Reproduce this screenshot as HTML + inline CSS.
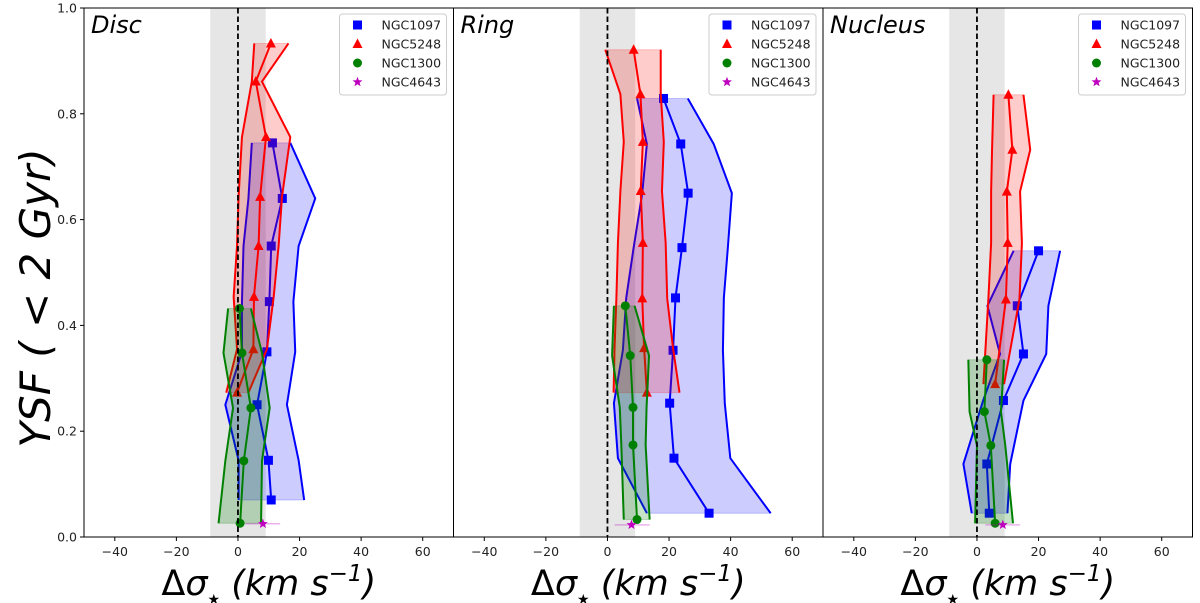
<!DOCTYPE html>
<html><head><meta charset="utf-8"><style>
body{margin:0;background:#fff;}
svg{display:block;font-family:"DejaVu Sans","Liberation Sans",sans-serif;}
</style></head><body>
<svg id="chart" width="1200" height="603" viewBox="0 0 1200 603" xmlns="http://www.w3.org/2000/svg"></svg>
<script>
const panelTitles = ["Disc","Ring","Nucleus"];
const galaxies = ["NGC1097","NGC5248","NGC1300","NGC4643"];
const xTicks = [-40,-20,0,20,40,60];
const yTicks = [0,0.2,0.4,0.6,0.8,1.0];
const yTickLabels = ["0.0","0.2","0.4","0.6","0.8","1.0"];
// Disc
const discN1097Y = [0.745,0.64,0.55,0.445,0.35,0.25,0.145,0.07];
const discN1097Mid = [11.2,14.4,10.8,10.2,9.4,6.2,9.9,10.8];
const discN1097Lo = [4.5,3.4,1.8,1.3,1.3,-4.1,0.2,0.2];
const discN1097Hi = [17,25.1,19.7,18,18.6,15.9,19.7,21.5];
const discN5248Y = [0.933,0.861,0.756,0.643,0.55,0.454,0.355,0.273];
const discN5248Mid = [10.7,5.8,9.1,7.2,6.7,5.2,5.0,-0.3];
const discN5248Lo = [5.3,4.5,1.3,0.2,-0.3,-1.4,-0.3,-3.8];
const discN5248Hi = [16.4,7.8,17,14.3,13.2,11.6,9.4,3.4];
const discN1300Y = [0.432,0.348,0.244,0.144,0.026];
const discN1300Mid = [0.5,1.3,4.2,1.9,0.7];
const discN1300Lo = [-3.2,-4.7,-1.6,-4.1,-6.3];
const discN1300Hi = [4.2,7.8,10.3,7.8,7.5];
const discN4643 = [8.1,0.025,2.4,13.7];
// Ring
const ringN1097Y = [0.829,0.743,0.65,0.547,0.452,0.353,0.253,0.149,0.045];
const ringN1097Mid = [18.2,23.8,26.2,24.2,22.1,21.3,20.2,21.6,33];
const ringN1097Lo = [9.6,12.8,11.3,8.5,6.1,5.0,2.1,3.4,12.8];
const ringN1097Hi = [26.1,34.5,40.4,39.1,37.8,37.5,38.1,39.9,53];
const ringN5248Y = [0.921,0.837,0.747,0.654,0.556,0.451,0.357,0.273];
const ringN5248Mid = [8.5,10.7,11.5,10.8,11.5,11.3,11.9,12.8];
const ringN5248Lo = [-0.7,4.2,5.3,4.2,3.4,2.9,2.3,2.0];
const ringN5248Hi = [17.3,17.3,18.3,17.7,18.9,19.4,21.3,23.4];
const ringN1300Y = [0.437,0.343,0.245,0.174,0.033];
const ringN1300Mid = [5.8,7.4,8.3,8.3,9.6];
const ringN1300Lo = [2.1,1.5,4.0,4.5,5.3];
const ringN1300Hi = [8.8,13.5,12.7,12.4,13.7];
const ringN4643 = [7.8,0.023,2.3,13.7];
// Nucleus
const nucN1097Y = [0.541,0.437,0.346,0.258,0.138,0.045];
const nucN1097Mid = [20,13.1,15.1,8.6,3.2,4.0];
const nucN1097Lo = [11.9,3.4,7.5,2.0,-4.4,-1.7];
const nucN1097Hi = [27,23.2,22.5,15.1,10.8,9.9];
const nucN5248Y = [0.836,0.732,0.653,0.556,0.449,0.289];
const nucN5248Mid = [10.2,11.5,9.7,10.0,9.4,5.9];
const nucN5248Lo = [5.4,4.9,4.6,4.6,3.7,2.1];
const nucN5248Hi = [15.1,17.3,14,14.6,13.8,8.8];
const nucN1300Y = [0.335,0.237,0.173,0.026];
const nucN1300Mid = [3.2,2.4,4.5,5.9];
const nucN1300Lo = [-2.8,-2.4,0,-0.6];
const nucN1300Hi = [8.8,7.8,9.2,11.7];
const nucN4643 = [8.4,0.023,2.7,14];

const NS="http://www.w3.org/2000/svg";
const svg=document.getElementById('chart');
function mk(tag,attrs,parent){const e=document.createElementNS(NS,tag);for(const k in attrs)e.setAttribute(k,attrs[k]);(parent||svg).appendChild(e);return e;}
const TOP=8,BOT=537,PW=369.5,XMIN=-50,XMAX=70;
const lefts=[84,453.5,823];
function yS(v){return BOT-(v-0)/(1-0)*(BOT-TOP);}

const panels=[
 {s:[[discN1097Y,discN1097Mid,discN1097Lo,discN1097Hi],[discN5248Y,discN5248Mid,discN5248Lo,discN5248Hi],[discN1300Y,discN1300Mid,discN1300Lo,discN1300Hi]],star:discN4643},
 {s:[[ringN1097Y,ringN1097Mid,ringN1097Lo,ringN1097Hi],[ringN5248Y,ringN5248Mid,ringN5248Lo,ringN5248Hi],[ringN1300Y,ringN1300Mid,ringN1300Lo,ringN1300Hi]],star:ringN4643},
 {s:[[nucN1097Y,nucN1097Mid,nucN1097Lo,nucN1097Hi],[nucN5248Y,nucN5248Mid,nucN5248Lo,nucN5248Hi],[nucN1300Y,nucN1300Mid,nucN1300Lo,nucN1300Hi]],star:nucN4643}
];
const cols=["#0000ff","#ff0000","#008000"];
const fills=["rgba(0,0,255,0.2)","rgba(255,0,0,0.2)","rgba(0,128,0,0.22)"];

function marker(g,type,x,y,c){
  let m;
  if(type===0) m=mk('rect',{x:x-4.5,y:y-4.5,width:9,height:9,fill:c},g);
  else if(type===1) m=mk('polygon',{points:`${x},${y-5.5} ${x+5},${y+4} ${x-5},${y+4}`,fill:c},g);
  else if(type===2) m=mk('circle',{cx:x,cy:y,r:4.5,fill:c},g);
  else {
    let p=[];for(let i=0;i<10;i++){const r=i%2?2.2:5.2;const a=-Math.PI/2+i*Math.PI/5;p.push((x+r*Math.cos(a)).toFixed(1)+','+(y+r*Math.sin(a)).toFixed(1));}
    m=mk('polygon',{points:p.join(' '),fill:c},g);
  }
  return m;
}

panels.forEach((P,pi)=>{
  const L=lefts[pi];
  const xS=v=>L+(v-XMIN)/(XMAX-XMIN)*PW;
  const g=mk('g',{});
  
  
  const band=mk('rect',{x:xS(-9),y:TOP,width:xS(9)-xS(-9),height:BOT-TOP,fill:"rgba(128,128,128,0.2)"},g);
  
  
  P.s.forEach((S,si)=>{
    const [Y,M,Lo,Hi]=S;
    const sg=mk('g',{},g);
    
    
    let pts=[];
    for(let i=0;i<Y.length;i++)pts.push(xS(Lo[i])+','+yS(Y[i]));
    for(let i=Y.length-1;i>=0;i--)pts.push(xS(Hi[i])+','+yS(Y[i]));
    const poly=mk('polygon',{points:pts.join(' '),fill:fills[si],stroke:fills[si],'stroke-width':1},sg);
    
    
    [Lo,Hi].forEach(arr=>{
      const pl=mk('polyline',{points:Y.map((y,i)=>xS(arr[i])+','+yS(y)).join(' '),fill:'none',stroke:cols[si],'stroke-width':2},sg);
      
      
    });
    const ml=mk('polyline',{points:Y.map((y,i)=>xS(M[i])+','+yS(y)).join(' '),fill:'none',stroke:cols[si],'stroke-width':2},sg);
    
    
    Y.forEach((y,i)=>{
      const m=marker(sg,si,xS(M[i]),yS(y),cols[si]);
      
      
    });
  });
  const st=P.star;
  const eb=mk('line',{x1:xS(st[2]),x2:xS(st[3]),y1:yS(st[1]),y2:yS(st[1]),stroke:"rgba(191,0,191,0.3)",'stroke-width':1.5},g);
  
  
  const sm=marker(g,3,xS(st[0]),yS(st[1]),"#bf00bf");
  
  
  const zl=mk('line',{x1:xS(0),x2:xS(0),y1:TOP,y2:BOT,stroke:'#000','stroke-width':1.8,'stroke-dasharray':'5.5,3'},g);
  
  
  const fr=mk('rect',{x:L,y:TOP,width:PW,height:BOT-TOP,fill:'none',stroke:'#000','stroke-width':1},g);
  
  
  xTicks.forEach(t=>{
    mk('line',{x1:xS(t),x2:xS(t),y1:BOT,y2:BOT+4,stroke:'#000'},g);
    const tx=mk('text',{x:xS(t),y:BOT+19,'text-anchor':'middle','font-size':12.5,fill:'#222'},g);
    tx.textContent=(t<0?'\u2212'+(-t):t);
    
    
  });
  const tt=mk('text',{x:L+7,y:TOP+25,'font-size':24,'font-style':'italic',fill:'#000'},g);
  tt.textContent=panelTitles[pi];
  
  
  const xl=mk('text',{x:L+PW/2,y:595,'text-anchor':'middle','font-size':35,'font-style':'italic',fill:'#000'},g);
  xl.innerHTML='<tspan font-style="normal">\u0394</tspan>\u03c3<tspan font-size="14" dy="9">\u2605</tspan><tspan dy="-9"> (km s</tspan><tspan font-size="23" dy="-14">\u22121</tspan><tspan dy="14">)</tspan>';
  
  
  const lg=mk('g',{},g);
  
  
  const lx=L+PW-114;
  mk('rect',{x:lx,y:14,width:107,height:81,rx:3,fill:'rgba(255,255,255,0.8)',stroke:'#ccc'},lg);
  galaxies.forEach((n,i)=>{
    const yy=25+i*19;
    marker(lg,i,lx+18,yy,i<3?cols[i]:"#bf00bf");
    const t=mk('text',{x:lx+42,y:yy+4.5,'font-size':12.5,fill:'#222'},lg);
    t.textContent=n;
    
    
  });
});
yTicks.forEach((t,i)=>{
  mk('line',{x1:80,x2:84,y1:yS(t),y2:yS(t),stroke:'#000'});
  const tx=mk('text',{x:77,y:yS(t)+4.5,'text-anchor':'end','font-size':12.5,fill:'#222'});
  tx.textContent=yTickLabels[i];
  
  
});
const yl=mk('text',{x:0,y:0,transform:'translate(50,298) rotate(-90)','text-anchor':'middle','font-size':42,'font-style':'italic',fill:'#000'});
yl.textContent='YSF ( < 2 Gyr)';


</script>
</body></html>
